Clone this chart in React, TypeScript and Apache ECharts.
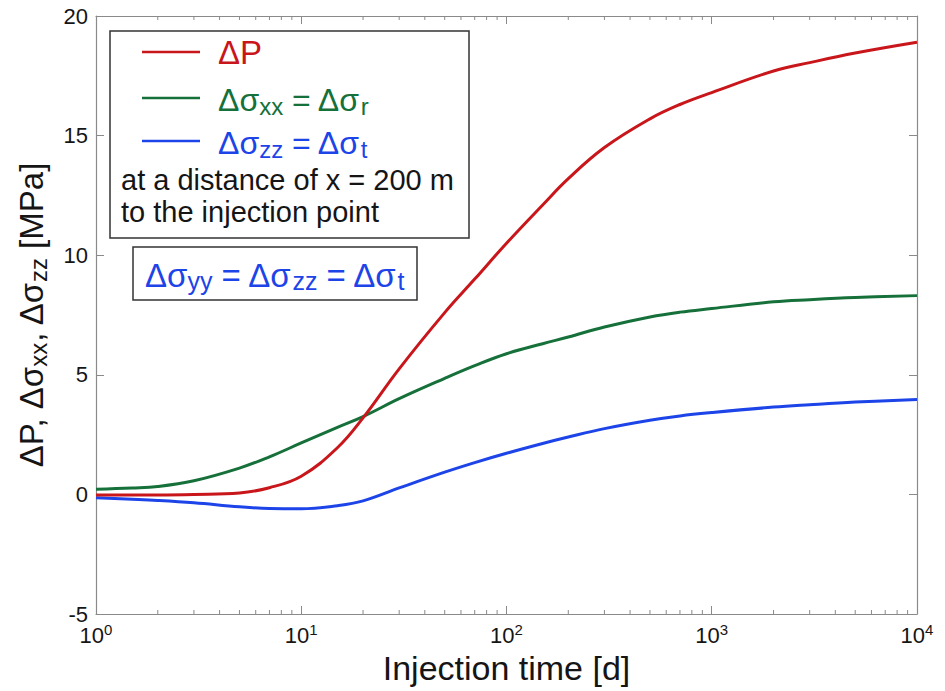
import React, { useEffect, useRef } from "react";
import * as echarts from "echarts";

// Injection time [d]
const times = [1, 1.5, 2, 3, 5, 7, 10, 15, 20, 30, 50, 70, 100, 150, 200, 300, 500, 700, 1000, 2000, 3000, 5000, 10000];
// ΔP [MPa]
const deltaP = [-0.02, -0.02, -0.02, 0.0, 0.06, 0.28, 0.76, 1.95, 3.2, 5.25, 7.6, 9.0, 10.5, 12.1, 13.2, 14.5, 15.7, 16.3, 16.8, 17.7, 18.05, 18.45, 18.9];
// Δσxx = Δσr [MPa]
const deltaSxx = [0.22, 0.27, 0.33, 0.57, 1.1, 1.57, 2.15, 2.8, 3.25, 4.0, 4.85, 5.38, 5.88, 6.3, 6.58, 7.0, 7.42, 7.62, 7.77, 8.05, 8.14, 8.23, 8.31];
// Δσzz = Δσt [MPa]
const deltaSzz = [-0.14, -0.2, -0.25, -0.35, -0.52, -0.59, -0.6, -0.47, -0.27, 0.27, 0.93, 1.33, 1.72, 2.13, 2.4, 2.75, 3.1, 3.28, 3.42, 3.65, 3.75, 3.86, 3.97];

const decades = [1, 10, 100, 1000];
const minorMultipliers = [2, 3, 4, 5, 6, 7, 8, 9];

const FONT = "'Liberation Sans', Arial, Helvetica, sans-serif";
const RED = "#c8161b";
const GREEN = "#16703a";
const BLUE = "#1c44e8";
const AXIS = "#8a8a8a";
const TEXT = "#151515";

export default function App() {
  const ref = useRef<HTMLDivElement>(null);

  useEffect(() => {
    if (!ref.current) return;
    const chart = echarts.init(ref.current, undefined, { renderer: "svg" });

    const minorTicks: number[][] = [];
    decades.forEach((d) => minorMultipliers.forEach((m) => minorTicks.push([d * m, -5])));

    const pairs = (ys: number[]) => times.map((t, i) => [t, ys[i]]);

    const xLabelRich = {
      b: { fontSize: 22, lineHeight: 26, fontFamily: FONT, color: TEXT },
      s: { fontSize: 15, lineHeight: 15, verticalAlign: "top", fontFamily: FONT, color: TEXT },
    };

    const commonX = {
      type: "log",
      logBase: 10,
      min: 1,
      max: 10000,
      splitNumber: 4,
      splitLine: { show: false },
      axisLine: { show: true, onZero: false, lineStyle: { color: AXIS, width: 1.2 } },
      axisTick: { show: true, inside: true, length: 8, lineStyle: { color: AXIS, width: 1 } },
    };
    const commonY = {
      type: "value",
      min: -5,
      max: 20,
      interval: 5,
      splitLine: { show: false },
      axisLine: { show: true, onZero: false, lineStyle: { color: AXIS, width: 1.2 } },
      axisTick: { show: true, inside: true, length: 8, lineStyle: { color: AXIS, width: 1 } },
    };

    const subText = (size: number, color: string, ratio = 0.75) => {
      const ss = Math.round(size * ratio);
      return {
        n: { fontSize: size, lineHeight: size + 4, fontFamily: FONT, color, fill: color },
        s: { fontSize: ss, lineHeight: Math.round(size * 0.6), verticalAlign: "bottom", fontFamily: FONT, color, fill: color },
      };
    };

    const lineSeries = (name: string, ys: number[], color: string, z: number) => ({
      name,
      type: "line",
      data: pairs(ys),
      smooth: 0.4,
      showSymbol: false,
      lineStyle: { color, width: 3 },
      z,
    });

    const option: any = {
      animation: false,
      grid: { left: 96, top: 16, right: 28, bottom: 77 },
      xAxis: [
        {
          ...commonX,
          position: "bottom",
          axisLabel: {
            margin: 8,
            formatter: (v: number) => `{b|10}{s|${Math.round(Math.log10(v))}}`,
            rich: xLabelRich,
          },
          name: "Injection time [d]",
          nameLocation: "middle",
          nameGap: 29,
          nameTextStyle: { fontSize: 34, color: TEXT, fontFamily: FONT, verticalAlign: "top" },
        },
        { ...commonX, position: "top", axisLabel: { show: false } },
      ],
      yAxis: [
        {
          ...commonY,
          position: "left",
          axisLabel: { margin: 8, fontSize: 22, color: TEXT, fontFamily: FONT },
          name: "{n|ΔP, Δσ}{s|xx}{n|, Δσ}{s|zz}{n| [MPa]}",
          nameLocation: "middle",
          nameGap: 46,
          nameRotate: 90,
          nameTextStyle: { rich: subText(33, TEXT, 0.72) },
        },
        { ...commonY, position: "right", axisLabel: { show: false } },
      ],
      series: [
        lineSeries("ΔP", deltaP, RED, 4),
        lineSeries("Δσxx = Δσr", deltaSxx, GREEN, 3),
        lineSeries("Δσzz = Δσt", deltaSzz, BLUE, 3),
        {
          type: "custom",
          data: minorTicks,
          silent: true,
          clip: false,
          z: 5,
          renderItem: (_params: any, api: any) => {
            const v = api.value(0);
            const b = api.coord([v, -5]);
            const t = api.coord([v, 20]);
            const st = { stroke: AXIS, lineWidth: 1 };
            return {
              type: "group",
              children: [
                { type: "line", shape: { x1: b[0], y1: b[1], x2: b[0], y2: b[1] - 4 }, style: st },
                { type: "line", shape: { x1: t[0], y1: t[1], x2: t[0], y2: t[1] + 4 }, style: st },
              ],
            };
          },
        },
      ],
      graphic: [
        {
          type: "rect",
          shape: { x: 110, y: 31, width: 359, height: 207 },
          style: { fill: "#fff", stroke: "#333", lineWidth: 1.5 },
          z: 10,
        },
        { type: "line", shape: { x1: 142, y1: 52, x2: 200, y2: 52 }, style: { stroke: RED, lineWidth: 2.5 }, z: 11 },
        { type: "line", shape: { x1: 142, y1: 98, x2: 200, y2: 98 }, style: { stroke: GREEN, lineWidth: 2.5 }, z: 11 },
        { type: "line", shape: { x1: 142, y1: 141, x2: 200, y2: 141 }, style: { stroke: BLUE, lineWidth: 2.5 }, z: 11 },
        {
          type: "text",
          x: 218,
          y: 52,
          z: 11,
          style: { text: "ΔP", fontSize: 33, fontFamily: FONT, fill: RED, verticalAlign: "middle" },
        },
        {
          type: "text",
          x: 218,
          y: 100,
          z: 11,
          style: { text: "{n|Δσ}{s|xx}{n| = Δσ}{s|r}", rich: subText(32, GREEN), fill: GREEN, verticalAlign: "middle" },
        },
        {
          type: "text",
          x: 218,
          y: 143,
          z: 11,
          style: { text: "{n|Δσ}{s|zz}{n| = Δσ}{s|t}", rich: subText(32, BLUE), fill: BLUE, verticalAlign: "middle" },
        },
        {
          type: "text",
          x: 121,
          y: 164,
          z: 11,
          style: {
            text: "at a distance of x = 200 m\nto the injection point",
            fontSize: 29,
            lineHeight: 32,
            fontFamily: FONT,
            fill: TEXT,
            verticalAlign: "top",
          },
        },
        {
          type: "rect",
          shape: { x: 133, y: 247, width: 284, height: 53 },
          style: { fill: "#fff", stroke: "#333", lineWidth: 1.5 },
          z: 10,
        },
        {
          type: "text",
          x: 145,
          y: 275,
          z: 11,
          style: { text: "{n|Δσ}{s|yy}{n| = Δσ}{s|zz}{n| = Δσ}{s|t}", rich: subText(33, BLUE), fill: BLUE, verticalAlign: "middle" },
        },
      ],
    };

    chart.setOption(option);
    return () => chart.dispose();
  }, []);

  return (
    <div
      ref={ref}
      style={{ position: "fixed", left: 0, top: 0, width: 945, height: 691, background: "#fff" }}
    />
  );
}
